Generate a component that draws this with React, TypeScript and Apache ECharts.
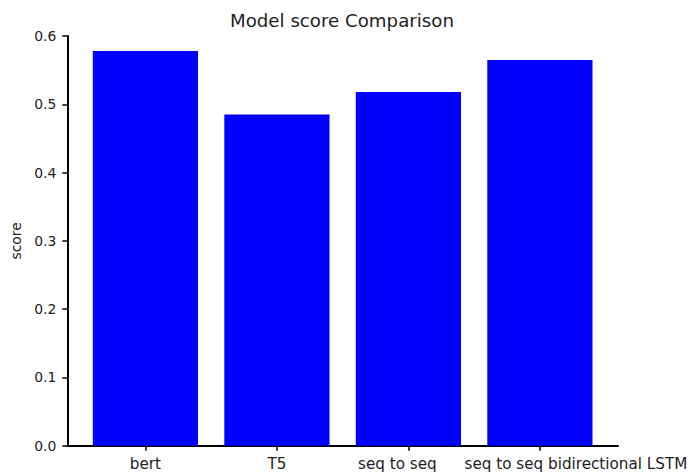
import React, { useEffect, useRef } from "react";
import * as echarts from "echarts";

const categories = ["bert", "T5", "seq to seq", "seq to seq bidirectional LSTM"];
const scores = [0.578, 0.485, 0.518, 0.565];
const yTicks = { min: 0, max: 0.6, interval: 0.1 };
const titleText = "Model score Comparison";
const yName = "score";

const FONT = "DejaVu Sans";
const TEXT = "#222222";

// label offsets as they appear in the reference (padding shifts the centred label)
const labelPadding: Record<string, number[]> = {
  "seq to seq": [0, 22, 0, 0],
  "seq to seq bidirectional LSTM": [0, 0, 0, 72],
};

export default function App() {
  const ref = useRef<HTMLDivElement>(null);
  useEffect(() => {
    if (!ref.current) return;
    const chart = echarts.init(ref.current, null, { renderer: "svg" });
    const top = 36;
    const bottom = 28.3;
    chart.setOption({
      animation: false,
      backgroundColor: "#ffffff",
      textStyle: { fontFamily: FONT },
      title: {
        text: titleText,
        left: 230,
        top: 11,
        padding: 0,
        textStyle: { fontFamily: FONT, fontSize: 18.2, fontWeight: "normal", color: TEXT },
      },
      grid: [
        { left: 67.3, right: 73, top, bottom, containLabel: false },
        { left: 79.65, right: 85.35, top, bottom, containLabel: false },
      ],
      xAxis: [
        {
          type: "value",
          gridIndex: 0,
          min: 0,
          max: 1,
          axisLine: { show: true, lineStyle: { color: "#000", width: 2 } },
          axisTick: { show: false },
          axisLabel: { show: false },
          splitLine: { show: false },
        },
        {
          type: "category",
          gridIndex: 1,
          data: categories.map((c) =>
            labelPadding[c] ? { value: c, textStyle: { padding: labelPadding[c] } } : c
          ),
          axisLine: { show: false },
          axisTick: { show: true, alignWithLabel: true, length: 5, lineStyle: { color: "#000", width: 1.5 } },
          axisLabel: { margin: 11, fontSize: 15.2, color: TEXT, fontFamily: FONT, interval: 0 },
          splitLine: { show: false },
        },
      ],
      yAxis: [
        {
          type: "value",
          gridIndex: 0,
          min: yTicks.min,
          max: yTicks.max,
          interval: yTicks.interval,
          name: yName,
          nameLocation: "middle",
          nameGap: 40,
          nameTextStyle: { fontSize: 13.9, color: TEXT, fontFamily: FONT },
          axisLine: { show: true, lineStyle: { color: "#000", width: 2 } },
          axisTick: { show: true, length: 5, lineStyle: { color: "#000", width: 1.5 } },
          axisLabel: {
            margin: 11,
            fontSize: 13.9,
            color: TEXT,
            fontFamily: FONT,
            formatter: (v: number) => v.toFixed(1),
          },
          splitLine: { show: false },
        },
        {
          type: "value",
          gridIndex: 1,
          min: yTicks.min,
          max: yTicks.max,
          interval: yTicks.interval,
          show: false,
          splitLine: { show: false },
        },
      ],
      series: [
        {
          type: "bar",
          xAxisIndex: 1,
          yAxisIndex: 1,
          data: scores,
          barWidth: "80%",
          itemStyle: { color: "#0000ff" },
          z: 1,
        },
      ],
    });
    return () => chart.dispose();
  }, []);
  return (
    <div
      ref={ref}
      style={{ position: "absolute", left: 0, top: 0, width: 691, height: 474 }}
    />
  );
}
